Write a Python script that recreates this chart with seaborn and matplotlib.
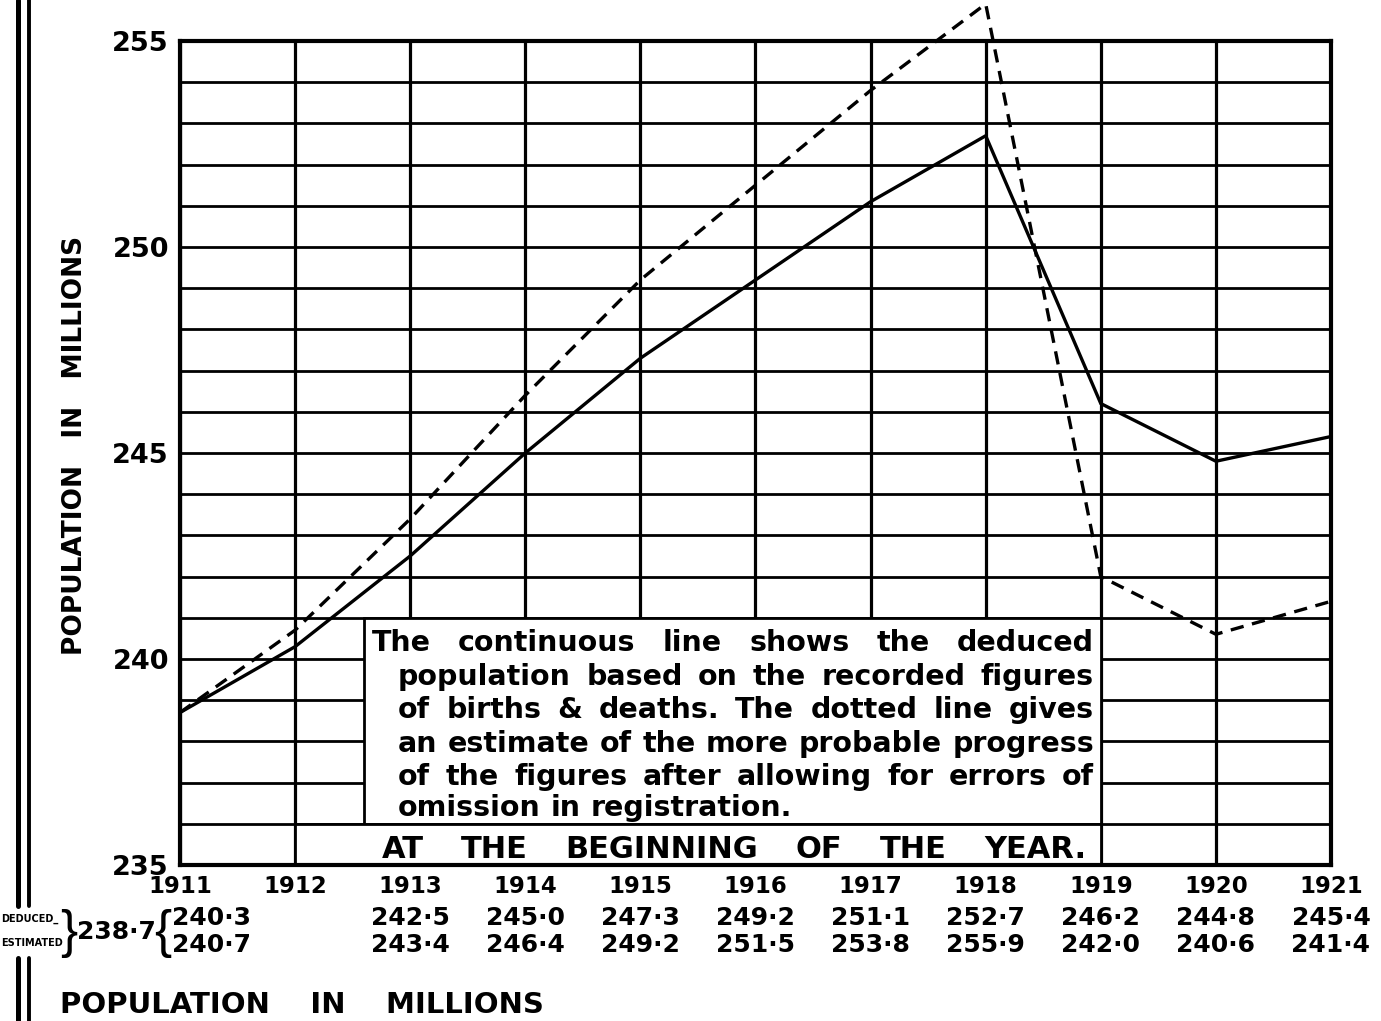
import matplotlib
matplotlib.use("Agg")
import matplotlib.pyplot as plt
import numpy as np
import pandas as pd
import seaborn as sns
from matplotlib.patches import Rectangle
from matplotlib.lines import Line2D

# ---------------- data ----------------
years = [1911, 1912, 1913, 1914, 1915, 1916, 1917, 1918, 1919, 1920, 1921]
deduced = [238.7, 240.3, 242.5, 245.0, 247.3, 249.2, 251.1, 252.7, 246.2, 244.8, 245.4]
estimated = [238.7, 240.7, 243.4, 246.4, 249.2, 251.5, 253.8, 255.9, 242.0, 240.6, 241.4]
deduced_labels = ["238·7", "240·3", "242·5", "245·0", "247·3", "249·2",
                  "251·1", "252·7", "246·2", "244·8", "245·4"]
estimated_labels = ["238·7", "240·7", "243·4", "246·4", "249·2", "251·5",
                    "253·8", "255·9", "242·0", "240·6", "241·4"]
y_tick_values = [235, 240, 245, 250, 255]
note_lines = [
    "The continuous line shows the deduced",
    "population based on the recorded figures",
    "of births & deaths.  The dotted line gives",
    "an estimate of the more probable progress",
    "of the figures after allowing for errors of",
    "omission in registration.",
]
footer_text = "AT THE BEGINNING OF THE YEAR."
axis_title = "POPULATION   IN   MILLIONS"
bottom_title = "POPULATION    IN    MILLIONS"

# ---------------- style ----------------
sns.set_style("white")
plt.rcParams["font.family"] = ["DejaVu Sans"]
plt.rcParams["font.weight"] = "bold"
for key in ["text.color", "xtick.color", "ytick.color", "axes.labelcolor",
            "axes.edgecolor"]:
    plt.rcParams[key] = "black"

W, H = 1381, 1021
fig = plt.figure(figsize=(W / 100, H / 100), dpi=100)
fig.patch.set_facecolor("white")

AX_L, AX_R, AX_T, AX_B = 180, 1331, 41, 865
ax = fig.add_axes([AX_L / W, 1 - AX_B / H, (AX_R - AX_L) / W, (AX_B - AX_T) / H])

df = pd.DataFrame({
    "year": years + years,
    "population": deduced + estimated,
    "series": ["Deduced"] * len(years) + ["Estimated"] * len(years),
})
sns.lineplot(data=df, x="year", y="population", style="series",
             dashes={"Deduced": "", "Estimated": (4, 2.6)},
             color="black", linewidth=2.4, legend=False, ax=ax, zorder=3)
for ln in ax.lines:
    ln.set_clip_on(False)
    ln.set_solid_joinstyle("miter")

ax.set_xlim(years[0], years[-1])
ax.set_ylim(235, 255)
ax.set_xticks(years)
ax.set_xticklabels([str(y) for y in years], fontsize=16.5, fontweight="bold")
ax.set_yticks(y_tick_values)
ax.set_yticklabels([str(v) for v in y_tick_values], fontsize=19.5, fontweight="bold")
ax.set_yticks(np.arange(235, 256, 1), minor=True)
ax.tick_params(axis="both", which="both", length=0)
ax.tick_params(axis="y", pad=8)
ax.tick_params(axis="x", pad=7)
ax.set_axisbelow(True)
ax.grid(True, axis="y", which="both", color="black", linewidth=2.0)
ax.grid(True, axis="x", which="major", color="black", linewidth=2.3)
for sp in ax.spines.values():
    sp.set_color("black")
    sp.set_linewidth(3)
ax.set_xlabel("")
ax.set_ylabel("")

# note box and footer row (white cells covering the grid)
ax.add_patch(Rectangle((1912.6, 236), 1919 - 1912.6, 5, facecolor="white",
                       edgecolor="black", linewidth=2.0, zorder=1.5))
ax.add_patch(Rectangle((1912, 235), 7, 1, facecolor="white",
                       edgecolor="black", linewidth=2.0, zorder=1.5))

# value rows under the year labels
xt = ax.get_xaxis_transform()


def ya(px):
    return (AX_B - px) / (AX_B - AX_T)


ROW1, ROW2, MID = 918, 945, 932
VAL_SIZE = 18
for i in range(2, len(years)):
    ax.text(years[i], ya(ROW1), deduced_labels[i], transform=xt, ha="center",
            va="center", fontsize=VAL_SIZE, fontweight="bold")
    ax.text(years[i], ya(ROW2), estimated_labels[i], transform=xt, ha="center",
            va="center", fontsize=VAL_SIZE, fontweight="bold")
ax.text(1911.27, ya(ROW1), deduced_labels[1], transform=xt, ha="center",
        va="center", fontsize=VAL_SIZE, fontweight="bold")
ax.text(1911.27, ya(ROW2), estimated_labels[1], transform=xt, ha="center",
        va="center", fontsize=VAL_SIZE, fontweight="bold")
ax.text(1910.445, ya(MID), deduced_labels[0], transform=xt, ha="center",
        va="center", fontsize=VAL_SIZE, fontweight="bold")


def fx(px):
    return px / W


def fy(py):
    return 1 - py / H


# braces & row names
fig.text(fx(69), fy(MID + 1), "}", ha="center", va="center", fontsize=37,
         fontweight="normal", family=["Liberation Sans", "DejaVu Sans"])
fig.text(fx(163), fy(MID + 1), "{", ha="center", va="center", fontsize=37,
         fontweight="normal", family=["Liberation Sans", "DejaVu Sans"])
fig.text(fx(1), fy(ROW1 + 1), "DEDUCED_", ha="left", va="center", fontsize=7,
         fontweight="bold")
fig.text(fx(1), fy(ROW2 - 2), "ESTIMATED", ha="left", va="center", fontsize=7,
         fontweight="bold")

# axis titles
fig.text(fx(75), fy(445), axis_title, rotation=90, ha="center", va="center",
         fontsize=19, fontweight="bold")
fig.text(fx(60), fy(1005), bottom_title, ha="left", va="center",
         fontsize=21, fontweight="bold")

# page border lines at far left (interrupted by the row names)
for xpx, lw in [(18, 3.6), (29, 2.8)]:
    for y0, y1 in [(0, 906), (958, H)]:
        fig.add_artist(Line2D([fx(xpx), fx(xpx)], [fy(y0), fy(y1)], color="black",
                              linewidth=lw, transform=fig.transFigure))

# justified text helper
fig.canvas.draw()
renderer = fig.canvas.get_renderer()


def justified(line, x0, x1, ypx, size, justify=True):
    words = line.split()
    objs = [fig.text(0, 0, w, fontsize=size, fontweight="bold", ha="left",
                     va="center") for w in words]
    widths = [o.get_window_extent(renderer).width for o in objs]
    if justify and len(words) > 1:
        gap = (x1 - x0 - sum(widths)) / (len(words) - 1)
    else:
        sp = fig.text(0, 0, "a a", fontsize=size, fontweight="bold")
        aa = fig.text(0, 0, "aa", fontsize=size, fontweight="bold")
        gap = sp.get_window_extent(renderer).width - aa.get_window_extent(renderer).width
        sp.remove()
        aa.remove()
    x = x0
    for o, w in zip(objs, widths):
        o.set_position((fx(x), fy(ypx)))
        x += w + gap


NOTE_SIZE = 20.5
note_y = [643, 677, 710, 744, 777, 808]
for k, (line, yy) in enumerate(zip(note_lines, note_y)):
    left = 372 if k == 0 else 398
    justified(line, left, 1094, yy, NOTE_SIZE, justify=(k < len(note_lines) - 1))

justified(footer_text, 382, 1086, 849, 22)

fig.savefig("out.png", dpi=100, facecolor="white")
